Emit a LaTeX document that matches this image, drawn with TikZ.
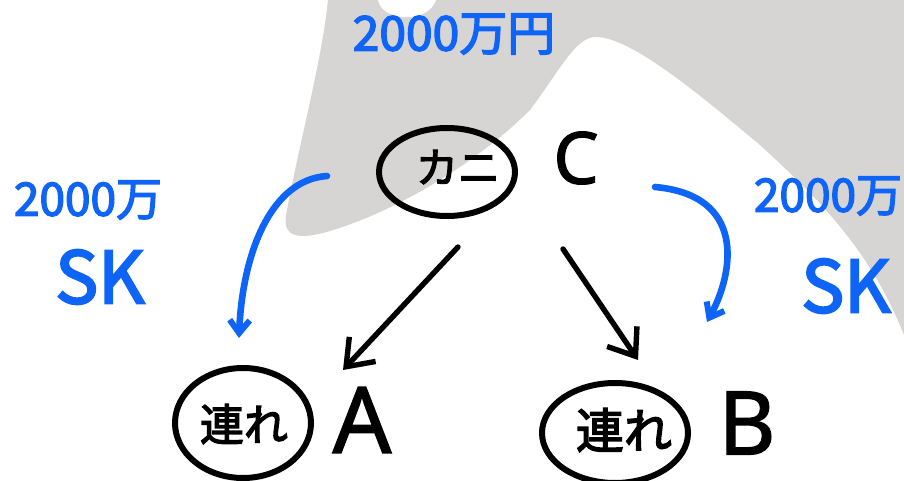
\documentclass[tikz,border=0pt]{standalone}
\usepackage{fontspec}
\setmainfont[FakeBold=1.5]{Noto Sans}
\newfontfamily\jp[FakeBold=3]{Noto Sans CJK JP}
\newfontfamily\jpk[FakeBold=3]{Noto Sans CJK JP}
\usetikzlibrary{shapes.geometric,arrows.meta}
\definecolor{pen}{RGB}{14,100,246}
\definecolor{bggray}{RGB}{215,212,212}
\tikzset{
  ring/.style={draw=black,line width=6pt,ellipse,inner sep=0pt},
  blacklab/.style={inner sep=0pt,text=black},
  bluelab/.style={inner sep=0pt,text=pen},
  blackarr/.style={draw=black,line width=5.4pt,line cap=round,line join=round,
    -{Straight Barb[length=24pt,width=36pt,line width=5.4pt]}},
  bluearr/.style={draw=pen,line width=6.6pt,line cap=round,line join=round,
    -{Straight Barb[length=13pt,width=20pt,line width=6pt]}}
}
\begin{document}
\begin{tikzpicture}[x=1pt,y=-1pt]
\useasboundingbox (0,0) rectangle (904,481);
\fill[white] (0,0) rectangle (904,481);
% gray backdrop
\fill[bggray] (328,0) .. controls (322,60) and (300,140) .. (286,215)
  .. controls (282,238) and (300,240) .. (330,231)
  .. controls (400,210) and (480,160) .. (530,110)
  .. controls (560,70) and (575,38) .. (595,37)
  .. controls (630,36) and (700,95) .. (760,145)
  .. controls (820,200) and (870,250) .. (904,335)
  -- (904,0) -- cycle;
\fill[white] (378,0) .. controls (382,22) and (428,24) .. (436,0) -- cycle;
% nodes
\node[ring,minimum width=136pt,minimum height=88pt] (kani) at (447,172) {};
\node[blacklab] (kanit) at (458,167) {\jpk\fontsize{42}{42}\selectfont カニ};
\node[blacklab] (C) at (576,158) {\fontsize{72}{72}\selectfont C};
\node[ring,minimum width=136pt,minimum height=110pt] (ra) at (243,423) {};
\node[blacklab] (rat) at (244,424) {\jpk\fontsize{44}{44}\selectfont 連れ};
\node[blacklab] (A) at (362,420) {\fontsize{92}{92}\selectfont A};
\node[ring,minimum width=146pt,minimum height=100pt] (rb) at (615,433) {};
\node[blacklab] (rbt) at (624,430) {\jpk\fontsize{48}{48}\selectfont 連れ};
\node[blacklab] (B) at (747,423) {\fontsize{88}{88}\selectfont B};
% blue labels
\node[bluelab] (top) at (454,34) {\jp\fontsize{48}{48}\selectfont 2000万円};
\node[bluelab] (lm) at (88,200) {\jp\fontsize{46}{46}\selectfont 2000万};
\node[bluelab] (lsk) at (100,277) {\jp\fontsize{72}{72}\selectfont SK};
\node[bluelab] (rm) at (828,196) {\jp\fontsize{46}{46}\selectfont 2000万};
\node[bluelab] (rsk) at (846,286) {\jp\fontsize{72}{72}\selectfont SK};
% black arrows
\coordinate (ca) at (458,247);
\coordinate (ac) at (343,370);
\coordinate (cb) at (563,249);
\coordinate (bc) at (638,360);
\draw[blackarr] (ca) -- (ac);
\draw[blackarr] (cb) -- (bc);
% blue arrows
\coordinate (lb1) at (327,176);
\coordinate (lb2) at (239,338);
\coordinate (rb1) at (655,187);
\coordinate (rb2) at (707,322);
\draw[bluearr] (lb1) .. controls (268,180) and (242,260) .. (lb2);
\draw[bluearr] (rb1) .. controls (745,195) and (735,270) .. (rb2);
\end{tikzpicture}
\end{document}
